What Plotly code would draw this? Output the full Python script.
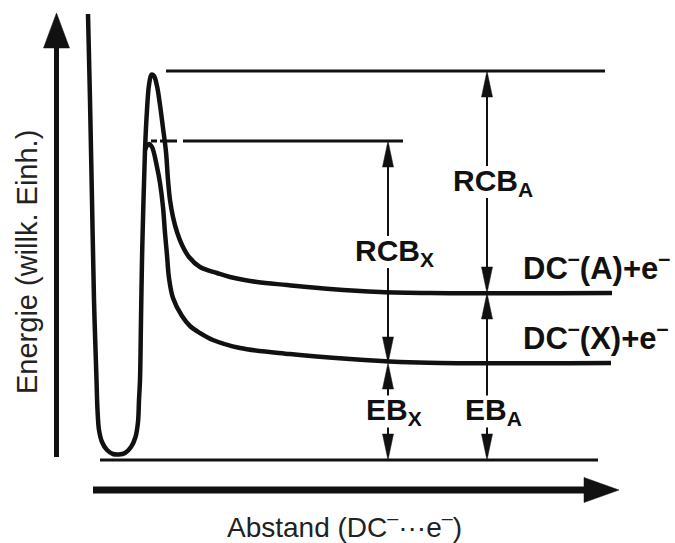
import plotly.graph_objects as go

# ---------------------------------------------------------------
# Potential energy curves DC⁻ + e⁻ (arbitrary units)
# distance along the detachment coordinate, energy above the ground level
# ---------------------------------------------------------------
dist_A = [88, 90, 92, 94, 96.5, 97.5, 99, 102, 107, 113, 119, 125, 131, 135.5,
          138, 139, 140, 141, 142, 143.5, 145, 147, 149, 151.5, 154, 157, 160,
          163, 166, 168, 170, 173, 177, 182, 189, 200, 217, 230, 257, 287, 330,
          380, 430, 612]
energy_A = [446, 360, 260, 160, 80, 50, 30, 18, 10, 6, 5.5, 7, 13, 23,
            38, 60, 80, 140, 200, 260, 310, 350, 375, 385.5, 384, 374, 355,
            332, 308, 280, 260, 243, 228, 215, 203, 193, 187, 183, 178, 175, 171,
            168, 167, 167]

dist_X = [145, 147, 149, 152, 157, 160, 163, 165, 167, 169, 173, 182, 190, 200,
          213, 240, 290, 350, 400, 440, 611]
energy_X = [310, 314.5, 316, 313, 293, 277, 253, 227, 205, 182, 162, 144, 134, 127,
            120, 112, 106, 101, 98, 97, 97]

# Characteristic energies
E_ground = 0
E_asym_X = 97
E_asym_A = 167
E_barrier_X = 319
E_barrier_A = 389

asym_labels = ["DC<sup>–</sup>(A)+e<sup>–</sup>", "DC<sup>–</sup>(X)+e<sup>–</sup>"]
asym_energies = [E_asym_A, E_asym_X]

x_title = "Abstand (DC<sup>–</sup>···e<sup>–</sup>)"
y_title = "Energie (willk. Einh.)"

# ---------------------------------------------------------------
# Layout geometry
# ---------------------------------------------------------------
W, H = 675, 543
X_RANGE = [0, 675]
Y_RANGE = [-83, 460]
INK = "#111111"
FONT = "Liberation Sans, Arial, Helvetica, sans-serif"

ARROW_X = {"A": 487, "X": 388}
HEAD_LEN, HEAD_HW = 26, 5.5
LABEL_GAP = 16

fig = go.Figure()


def add_line(xs, ys, width, dash="solid", shape="linear"):
    fig.add_trace(go.Scatter(
        x=xs, y=ys, mode="lines", hoverinfo="skip", showlegend=False,
        line=dict(color=INK, width=width, dash=dash, shape=shape, smoothing=1.0)))


def add_head(x, tip, direction, hw=HEAD_HW, length=HEAD_LEN, horizontal=False):
    base = tip - direction * length
    if horizontal:
        xs, ys = [tip, base, base, tip], [x, x - hw, x + hw, x]
    else:
        xs, ys = [x, x - hw, x + hw, x], [tip, base, base, tip]
    fig.add_trace(go.Scatter(
        x=xs, y=ys, mode="lines", fill="toself", fillcolor=INK,
        line=dict(color=INK, width=0.5), hoverinfo="skip", showlegend=False))


# potential curves
add_line(dist_A, energy_A, 4.5, shape="spline")
add_line(dist_X, energy_X, 4.5, shape="spline")

# reference levels
add_line([100, 598], [E_ground, E_ground], 3)
add_line([166, 605], [E_barrier_A, E_barrier_A], 3)
add_line([151, 183], [E_barrier_X, E_barrier_X], 3, dash="6px,3px,17px,6px")
add_line([183, 403], [E_barrier_X, E_barrier_X], 3)

# double arrows with their labels
measures = [
    ("X", E_asym_X, E_barrier_X, (E_asym_X + E_barrier_X) / 2, "RCB<sub>X</sub>"),
    ("A", E_asym_A, E_barrier_A, (E_asym_A + E_barrier_A) / 2, "RCB<sub>A</sub>"),
    ("X", E_ground, E_asym_X, (E_ground + E_asym_X) / 2, "EB<sub>X</sub>"),
    ("A", E_ground, E_asym_A, (E_ground + E_asym_X) / 2, "EB<sub>A</sub>"),
]
for key, lo, hi, lab, text in measures:
    mx = ARROW_X[key]
    add_line([mx, mx], [lab + LABEL_GAP, hi - 4], 2)
    add_line([mx, mx], [lo + 4, lab - LABEL_GAP], 2)
    add_head(mx, hi, +1)
    add_head(mx, lo, -1)
    fig.add_annotation(x=mx + 6, y=lab, text=text, showarrow=False,
                       xanchor="center", yanchor="middle",
                       font=dict(family=FONT, size=30, color=INK, weight="bold"))

for text, e in zip(asym_labels, asym_energies):
    fig.add_annotation(x=521, y=e + 27, text=text, showarrow=False,
                       xanchor="left", yanchor="middle",
                       font=dict(family=FONT, size=31, color=INK, weight="bold"))

# axis arrows
add_line([56.5, 56.5], [3, 414], 5)
add_head(56.5, 447, +1, hw=13, length=35)
add_line([93, 588], [-30, -30], 7)
add_head(-30, 619, +1, hw=12.5, length=35, horizontal=True)

fig.add_annotation(x=27, y=198, text=y_title, textangle=-90, showarrow=False,
                   xanchor="center", yanchor="middle",
                   font=dict(family=FONT, size=29, color="#222222"))
fig.add_annotation(x=344, y=-65, text=x_title, showarrow=False,
                   xanchor="center", yanchor="middle",
                   font=dict(family=FONT, size=28, color="#222222"))

fig.update_layout(
    width=W, height=H, margin=dict(l=0, r=0, t=0, b=0),
    paper_bgcolor="white", plot_bgcolor="white",
    xaxis=dict(range=X_RANGE, visible=False, fixedrange=True),
    yaxis=dict(range=Y_RANGE, visible=False, fixedrange=True),
    showlegend=False,
)

fig.write_html("out.html")
